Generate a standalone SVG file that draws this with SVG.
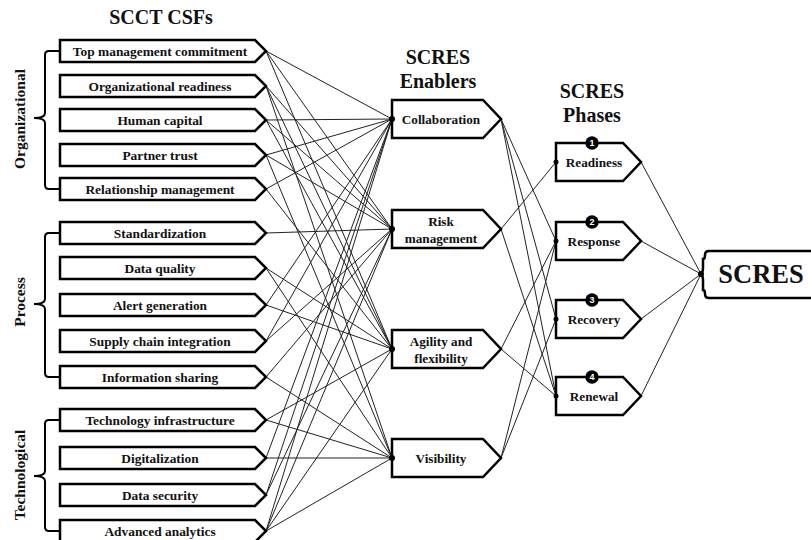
<svg xmlns="http://www.w3.org/2000/svg" width="811" height="540" viewBox="0 0 811 540">
<style>
.box{fill:#fff;stroke:#000;stroke-width:2.5;stroke-linejoin:miter}
.br{fill:none;stroke:#000;stroke-width:2}
.ln{stroke:#222;stroke-width:1;fill:none}
.t{font-family:"Liberation Serif","Times New Roman",serif;font-weight:bold;fill:#111;text-anchor:middle}
.csf{font-size:13.4px}
.ttl{font-size:20px}
.en{font-size:13.2px}
.side{font-size:15.5px}
.bd{font-family:"Liberation Sans",sans-serif;font-weight:bold;font-size:9px;fill:#fff;text-anchor:middle}
.dot{fill:#000}
</style>
<rect width="811" height="540" fill="#fff"/>
<text class="t ttl" x="161" y="24">SCCT CSFs</text>
<text class="t ttl" x="438" y="64">SCRES</text>
<text class="t ttl" x="438" y="88">Enablers</text>
<text class="t ttl" x="592" y="98">SCRES</text>
<text class="t ttl" x="592" y="122">Phases</text>

<g id="connectors">
<line class="ln" x1="266" y1="51" x2="392" y2="119"/>
<line class="ln" x1="266" y1="51" x2="392" y2="229"/>
<line class="ln" x1="266" y1="51" x2="392" y2="349"/>
<line class="ln" x1="266" y1="86" x2="392" y2="229"/>
<line class="ln" x1="266" y1="86" x2="392" y2="349"/>
<line class="ln" x1="266" y1="86" x2="392" y2="458"/>
<line class="ln" x1="266" y1="120" x2="392" y2="119"/>
<line class="ln" x1="266" y1="120" x2="392" y2="229"/>
<line class="ln" x1="266" y1="120" x2="392" y2="349"/>
<line class="ln" x1="266" y1="155" x2="392" y2="119"/>
<line class="ln" x1="266" y1="155" x2="392" y2="229"/>
<line class="ln" x1="266" y1="155" x2="392" y2="458"/>
<line class="ln" x1="266" y1="189" x2="392" y2="119"/>
<line class="ln" x1="266" y1="189" x2="392" y2="349"/>
<line class="ln" x1="266" y1="233" x2="392" y2="229"/>
<line class="ln" x1="266" y1="268" x2="392" y2="349"/>
<line class="ln" x1="266" y1="268" x2="392" y2="458"/>
<line class="ln" x1="266" y1="305" x2="392" y2="119"/>
<line class="ln" x1="266" y1="305" x2="392" y2="349"/>
<line class="ln" x1="266" y1="341" x2="392" y2="119"/>
<line class="ln" x1="266" y1="341" x2="392" y2="229"/>
<line class="ln" x1="266" y1="377" x2="392" y2="229"/>
<line class="ln" x1="266" y1="377" x2="392" y2="458"/>
<line class="ln" x1="266" y1="420" x2="392" y2="349"/>
<line class="ln" x1="266" y1="420" x2="392" y2="458"/>
<line class="ln" x1="266" y1="458" x2="392" y2="119"/>
<line class="ln" x1="266" y1="458" x2="392" y2="458"/>
<line class="ln" x1="266" y1="495" x2="392" y2="119"/>
<line class="ln" x1="266" y1="495" x2="392" y2="229"/>
<line class="ln" x1="266" y1="531" x2="392" y2="119"/>
<line class="ln" x1="266" y1="531" x2="392" y2="229"/>
<line class="ln" x1="266" y1="531" x2="392" y2="349"/>
<line class="ln" x1="266" y1="531" x2="392" y2="458"/>
<line class="ln" x1="501" y1="119" x2="556" y2="241"/>
<line class="ln" x1="501" y1="119" x2="556" y2="319"/>
<line class="ln" x1="501" y1="119" x2="556" y2="396"/>
<line class="ln" x1="501" y1="229" x2="556" y2="162"/>
<line class="ln" x1="501" y1="229" x2="556" y2="396"/>
<line class="ln" x1="501" y1="349" x2="556" y2="241"/>
<line class="ln" x1="501" y1="349" x2="556" y2="396"/>
<line class="ln" x1="501" y1="458" x2="556" y2="241"/>
<line class="ln" x1="501" y1="458" x2="556" y2="319"/>
<line class="ln" x1="641" y1="162" x2="701" y2="274"/>
<line class="ln" x1="641" y1="241" x2="701" y2="274"/>
<line class="ln" x1="641" y1="319" x2="701" y2="274"/>
<line class="ln" x1="641" y1="396" x2="701" y2="274"/>
</g>

<g id="brackets">
<path class="br" d="M60,51 H49 Q45,51 45,55 V113 Q45,118 34,118 Q45,118 45,123 V185 Q45,189 49,189 H60"/>
<path class="br" d="M60,233 H49 Q45,233 45,237 V299 Q45,304 34,304 Q45,304 45,309 V373 Q45,377 49,377 H60"/>
<path class="br" d="M60,420 H49 Q45,420 45,424 V471 Q45,476 34,476 Q45,476 45,481 V527 Q45,531 49,531 H60"/>
<text class="t side" transform="translate(25,119) rotate(-90)">Organizational</text>
<text class="t side" transform="translate(25,302) rotate(-90)">Process</text>
<text class="t side" transform="translate(25,475) rotate(-90)">Technological</text>
</g>

<g id="csf1"><polygon class="box" points="60,40 255,40 266,51 255,62 60,62"/><text class="t csf" x="160" y="56">Top management commitment</text></g>
<g id="csf2"><polygon class="box" points="60,75 255,75 266,86 255,97 60,97"/><text class="t csf" x="160" y="91">Organizational readiness</text></g>
<g id="csf3"><polygon class="box" points="60,109 255,109 266,120 255,131 60,131"/><text class="t csf" x="160" y="125">Human capital</text></g>
<g id="csf4"><polygon class="box" points="60,144 255,144 266,155 255,166 60,166"/><text class="t csf" x="160" y="160">Partner trust</text></g>
<g id="csf5"><polygon class="box" points="60,178 255,178 266,189 255,200 60,200"/><text class="t csf" x="160" y="194">Relationship management</text></g>
<g id="csf6"><polygon class="box" points="60,222 255,222 266,233 255,244 60,244"/><text class="t csf" x="160" y="238">Standardization</text></g>
<g id="csf7"><polygon class="box" points="60,257 255,257 266,268 255,279 60,279"/><text class="t csf" x="160" y="273">Data quality</text></g>
<g id="csf8"><polygon class="box" points="60,294 255,294 266,305 255,316 60,316"/><text class="t csf" x="160" y="310">Alert generation</text></g>
<g id="csf9"><polygon class="box" points="60,330 255,330 266,341 255,352 60,352"/><text class="t csf" x="160" y="346">Supply chain integration</text></g>
<g id="csf10"><polygon class="box" points="60,366 255,366 266,377 255,388 60,388"/><text class="t csf" x="160" y="382">Information sharing</text></g>
<g id="csf11"><polygon class="box" points="60,409 255,409 266,420 255,431 60,431"/><text class="t csf" x="160" y="425">Technology infrastructure</text></g>
<g id="csf12"><polygon class="box" points="60,447 255,447 266,458 255,469 60,469"/><text class="t csf" x="160" y="463">Digitalization</text></g>
<g id="csf13"><polygon class="box" points="60,484 255,484 266,495 255,506 60,506"/><text class="t csf" x="160" y="500">Data security</text></g>
<g id="csf14"><polygon class="box" points="60,520 255,520 266,531 255,542 60,542"/><text class="t csf" x="160" y="536">Advanced analytics</text></g>

<g id="en1"><polygon class="box" points="392,100 483,100 501,119 483,138 392,138"/><text class="t en" x="441" y="124">Collaboration</text><circle class="dot" cx="392" cy="119" r="3"/></g>
<g id="en2"><polygon class="box" points="392,210 483,210 501,229 483,248 392,248"/><text class="t en" x="441" y="226">Risk</text><text class="t en" x="441" y="243">management</text><circle class="dot" cx="392" cy="229" r="3"/></g>
<g id="en3"><polygon class="box" points="392,330 483,330 501,349 483,368 392,368"/><text class="t en" x="441" y="346">Agility and</text><text class="t en" x="441" y="363">flexibility</text><circle class="dot" cx="392" cy="349" r="3"/></g>
<g id="en4"><polygon class="box" points="392,439 483,439 501,458 483,477 392,477"/><text class="t en" x="441" y="463">Visibility</text><circle class="dot" cx="392" cy="458" r="3"/></g>

<g id="ph1"><polygon class="box" points="556,143 623,143 641,162 623,181 556,181"/><circle class="dot" cx="592" cy="143" r="6.7"/><text class="bd" x="592" y="146.3">1</text><text class="t en" x="594" y="167">Readiness</text><circle class="dot" cx="556" cy="162" r="2.5"/></g>
<g id="ph2"><polygon class="box" points="556,222 623,222 641,241 623,260 556,260"/><circle class="dot" cx="592" cy="222" r="6.7"/><text class="bd" x="592" y="225.3">2</text><text class="t en" x="594" y="246">Response</text><circle class="dot" cx="556" cy="241" r="2.5"/></g>
<g id="ph3"><polygon class="box" points="556,300 623,300 641,319 623,338 556,338"/><circle class="dot" cx="592" cy="300" r="6.7"/><text class="bd" x="592" y="303.3">3</text><text class="t en" x="594" y="324">Recovery</text><circle class="dot" cx="556" cy="319" r="2.5"/></g>
<g id="ph4"><polygon class="box" points="556,377 623,377 641,396 623,415 556,415"/><circle class="dot" cx="592" cy="377" r="6.7"/><text class="bd" x="592" y="380.3">4</text><text class="t en" x="594" y="401">Renewal</text><circle class="dot" cx="556" cy="396" r="2.5"/></g>

<g id="scres"><path class="box" d="M815,251 H709 Q705,251 705,255 Q705,259 703,259 V268 Q703,274 699,274 Q703,274 703,280 V290 Q705,290 705,294 Q705,298 709,298 H815"/><circle class="dot" cx="701" cy="274" r="3"/><text class="t" font-size="26.5" x="761" y="283">SCRES</text></g>
</svg>
